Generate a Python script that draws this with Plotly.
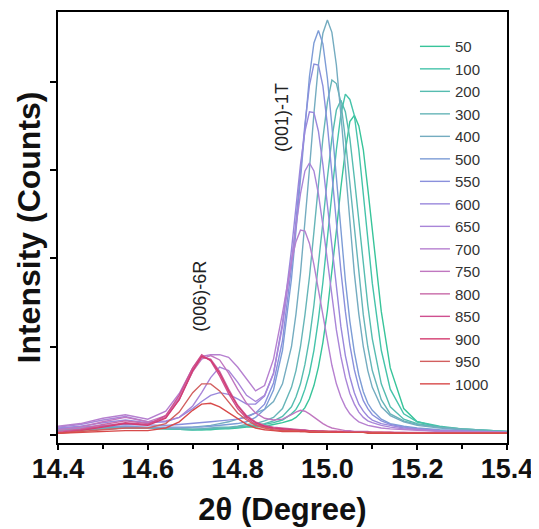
import plotly.graph_objects as go

two_theta = [14.40, 14.45, 14.50, 14.55, 14.60, 14.64, 14.67, 14.70, 14.72, 14.74, 14.76, 14.78, 14.80,
             14.82, 14.84, 14.86, 14.88, 14.90, 14.92, 14.93, 14.94, 14.95, 14.96, 14.97, 14.98, 14.99,
             15.00, 15.01, 15.02, 15.03, 15.04, 15.05, 15.06, 15.07, 15.08, 15.09, 15.10, 15.12, 15.14,
             15.17, 15.20, 15.25, 15.30, 15.40]

temps = ["50", "100", "200", "300", "400", "500", "550", "600", "650", "700", "750", "800", "850", "900", "950", "1000"]

i_50 = [0.05,0.06,0.08,0.09,0.08, 0.07,0.06,0.06,0.06,0.06,0.07,0.07,0.08, 0.09,0.09,0.10,0.12,0.14,
        0.17,0.20,0.25,0.31,0.41,0.56,0.77,1.05,1.41,1.84,2.31,2.80,3.22,3.55,3.62,3.50,3.23,2.79,2.31,
        1.40,0.76,0.30,0.15,0.09,0.06,0.03]
i_100 = [0.05,0.06,0.07,0.08,0.08, 0.07,0.06,0.06,0.06,0.07,0.07,0.08,0.09, 0.10,0.10,0.12,0.14,0.17,
         0.24,0.29,0.38,0.52,0.70,0.96,1.31,1.73,2.22,2.74,3.23,3.63,3.86,3.80,3.62,3.23,2.73,2.21,1.72,
         0.96,0.52,0.24,0.15,0.10,0.07,0.04]
i_200 = [0.05,0.06,0.07,0.08,0.08, 0.07,0.07,0.06,0.07,0.07,0.08,0.08,0.09, 0.10,0.11,0.13,0.16,0.21,
         0.32,0.43,0.58,0.80,1.09,1.47,1.91,2.41,2.91,3.36,3.68,3.79,3.66,3.36,2.91,2.41,1.91,1.47,1.09,
         0.58,0.32,0.18,0.13,0.09,0.07,0.04]
i_300 = [0.06,0.06,0.07,0.08,0.08, 0.07,0.07,0.07,0.07,0.08,0.09,0.09,0.10, 0.12,0.13,0.16,0.20,0.30,
         0.54,0.73,1.00,1.36,1.79,2.30,2.84,3.36,3.77,4.02,3.98,3.77,3.35,2.84,2.30,1.79,1.36,1.00,0.73,
         0.40,0.24,0.16,0.12,0.09,0.07,0.04]
i_400 = [0.06,0.07,0.07,0.08,0.08, 0.08,0.08,0.09,0.10,0.11,0.13,0.15,0.18, 0.21,0.25,0.29,0.38,0.58,
         1.00,1.37,1.83,2.39,3.01,3.64,4.19,4.55,4.70,4.56,4.19,3.63,3.01,2.39,1.83,1.37,1.00,0.73,0.54,
         0.32,0.22,0.15,0.11,0.08,0.06,0.03]
i_500 = [0.07,0.08,0.09,0.10,0.09, 0.09,0.09,0.09,0.09,0.10,0.11,0.12,0.13, 0.15,0.20,0.29,0.51,0.96,
         1.77,2.31,2.91,3.52,4.06,4.44,4.58,4.43,4.04,3.50,2.89,2.29,1.75,1.29,0.94,0.68,0.49,0.36,0.28,
         0.18,0.13,0.10,0.08,0.06,0.05,0.03]
i_550 = [0.07,0.09,0.11,0.12,0.11, 0.11,0.12,0.13,0.14,0.15,0.16,0.17,0.18, 0.20,0.25,0.35,0.59,1.07,
         1.90,2.43,2.99,3.52,3.96,4.20,4.19,3.95,3.51,2.96,2.39,1.86,1.40,1.02,0.74,0.54,0.39,0.30,0.23,
         0.16,0.12,0.09,0.07,0.05,0.04,0.03]
i_600 = [0.08,0.10,0.14,0.17,0.14, 0.15,0.20,0.30,0.38,0.45,0.48,0.46,0.41, 0.35,0.35,0.44,0.70,1.27,
         2.10,2.59,3.06,3.44,3.66,3.65,3.44,3.06,2.59,2.10,1.63,1.23,0.90,0.66,0.48,0.35,0.27,0.21,0.17,
         0.13,0.11,0.08,0.07,0.05,0.04,0.03]
i_650 = [0.09,0.12,0.17,0.21,0.15, 0.16,0.20,0.33,0.48,0.65,0.77,0.73,0.60, 0.45,0.38,0.45,0.70,1.23,
         1.99,2.37,2.73,2.99,3.08,2.99,2.73,2.37,1.96,1.56,1.19,0.89,0.65,0.47,0.35,0.26,0.20,0.16,0.14,
         0.11,0.09,0.07,0.06,0.05,0.04,0.03]
i_700 = [0.10,0.13,0.19,0.23,0.18, 0.27,0.47,0.76,0.89,0.91,0.91,0.88,0.77, 0.63,0.50,0.56,0.86,1.38,
         1.97,2.19,2.32,2.31,2.17,1.93,1.64,1.33,1.04,0.79,0.58,0.43,0.32,0.24,0.19,0.15,0.13,0.11,0.10,
         0.08,0.07,0.06,0.05,0.04,0.04,0.03]
i_750 = [0.06,0.09,0.15,0.20,0.15, 0.22,0.42,0.72,0.86,0.90,0.85,0.70,0.52, 0.36,0.25,0.19,0.17,0.18,
         0.23,0.26,0.28,0.27,0.24,0.20,0.16,0.13,0.10,0.08,0.07,0.06,0.05,0.05,0.04,0.04,0.04,0.04,0.03,
         0.03,0.03,0.03,0.03,0.02,0.02,0.02]
i_800 = [0.04,0.07,0.12,0.16,0.13, 0.20,0.40,0.72,0.88,0.86,0.72,0.52,0.34, 0.22,0.15,0.11,0.09,0.08,
         0.07,0.06,0.06,0.06,0.05,0.05,0.05,0.05,0.04,0.04,0.04,0.04,0.04,0.04,0.03,0.03,0.03,0.03,0.03,
         0.03,0.03,0.03,0.02,0.02,0.02,0.02]
i_850 = [0.03,0.06,0.10,0.14,0.12, 0.22,0.45,0.76,0.91,0.84,0.67,0.47,0.30, 0.19,0.12,0.09,0.07,0.06,
         0.05,0.05,0.05,0.05,0.04,0.04,0.04,0.04,0.04,0.04,0.04,0.03,0.03,0.03,0.03,0.03,0.03,0.03,0.03,
         0.03,0.03,0.02,0.02,0.02,0.02,0.02]
i_900 = [0.02,0.05,0.09,0.13,0.11, 0.19,0.40,0.73,0.89,0.85,0.70,0.50,0.33, 0.21,0.14,0.10,0.08,0.07,
         0.06,0.06,0.05,0.05,0.05,0.05,0.04,0.04,0.04,0.04,0.04,0.04,0.03,0.03,0.03,0.03,0.03,0.03,0.03,
         0.03,0.03,0.02,0.02,0.02,0.02,0.02]
i_950 = [0.02,0.04,0.06,0.08,0.08, 0.13,0.26,0.48,0.58,0.58,0.50,0.37,0.25, 0.17,0.11,0.08,0.06,0.05,
         0.05,0.05,0.04,0.04,0.04,0.04,0.04,0.04,0.04,0.03,0.03,0.03,0.03,0.03,0.03,0.03,0.03,0.03,0.03,
         0.03,0.02,0.02,0.02,0.02,0.02,0.02]
i_1000 = [0.02,0.03,0.04,0.05,0.05, 0.08,0.15,0.28,0.35,0.36,0.32,0.25,0.18, 0.12,0.08,0.06,0.05,0.04,
          0.04,0.04,0.04,0.04,0.03,0.03,0.03,0.03,0.03,0.03,0.03,0.03,0.03,0.03,0.03,0.03,0.03,0.02,0.02,
          0.02,0.02,0.02,0.02,0.02,0.02,0.02]

intensities = [i_50, i_100, i_200, i_300, i_400, i_500, i_550, i_600, i_650, i_700,
               i_750, i_800, i_850, i_900, i_950, i_1000]

colors = ["#38c49a", "#45c3aa", "#56bcb0", "#66b5b8", "#74acc0", "#7d9cd6", "#8a90dc", "#9a88dc",
          "#a985d8", "#b680d0", "#c077c0", "#c86aa8", "#cf5090", "#d43c70", "#d25f5f", "#d84a4a"]

x_ticks = [14.4, 14.6, 14.8, 15.0, 15.2, 15.4]
y_ticks = [0, 1, 2, 3, 4]

FONT = "Arial, Liberation Sans, sans-serif"

fig = go.Figure()
for name, ys, col in zip(temps, intensities, colors):
    fig.add_trace(go.Scatter(x=two_theta, y=ys, mode="lines", name=name,
                             line=dict(color=col, width=1.4)))

fig.update_layout(
    width=531, height=521,
    margin=dict(l=50, r=32, t=4, b=86, autoexpand=False),
    paper_bgcolor="white", plot_bgcolor="white",
    font=dict(family=FONT, color="#111"),
    showlegend=True,
    legend=dict(x=0.795, y=0.958, xanchor="left", yanchor="top",
                bgcolor="rgba(0,0,0,0)", borderwidth=0,
                font=dict(size=15, color="#333", family=FONT),
                itemwidth=30, tracegroupgap=0),
    annotations=[
        dict(x=14.899, y=3.59, xref="x", yref="y", text="(001)-1T", showarrow=False,
             textangle=-90, font=dict(size=18, color="#222", family=FONT)),
        dict(x=14.716, y=1.575, xref="x", yref="y", text="(006)-6R", showarrow=False,
             textangle=-90, font=dict(size=18, color="#222", family=FONT)),
    ],
)

fig.update_xaxes(
    range=[14.4, 15.4], tickvals=x_ticks, ticktext=[f"{v:.1f}" for v in x_ticks],
    showline=True, linewidth=2, linecolor="black", mirror=True,
    ticks="outside", ticklen=5, tickwidth=2, tickcolor="black",
    minor=dict(dtick=0.1, tick0=14.4, ticks="outside", ticklen=4, tickwidth=1.5, tickcolor="black"),
    showgrid=False, zeroline=False, automargin=False, ticklabelstandoff=-4,
    tickfont=dict(size=27, family=FONT, weight="bold", color="#111"),
    title=dict(text="2θ (Degree)", font=dict(size=31, family=FONT, weight="bold", color="#111"),
               standoff=15),
)
fig.update_yaxes(
    range=[-0.09, 4.79], tickvals=y_ticks, showticklabels=False,
    showline=True, linewidth=2, linecolor="black", mirror=True,
    ticks="outside", ticklen=6, tickwidth=2, tickcolor="black",
    showgrid=False, zeroline=False, automargin=False,
    title=dict(text="Intensity (Counts)", font=dict(size=32, family=FONT, weight="bold", color="#111"),
               standoff=0),
)

fig.write_html("out.html")
